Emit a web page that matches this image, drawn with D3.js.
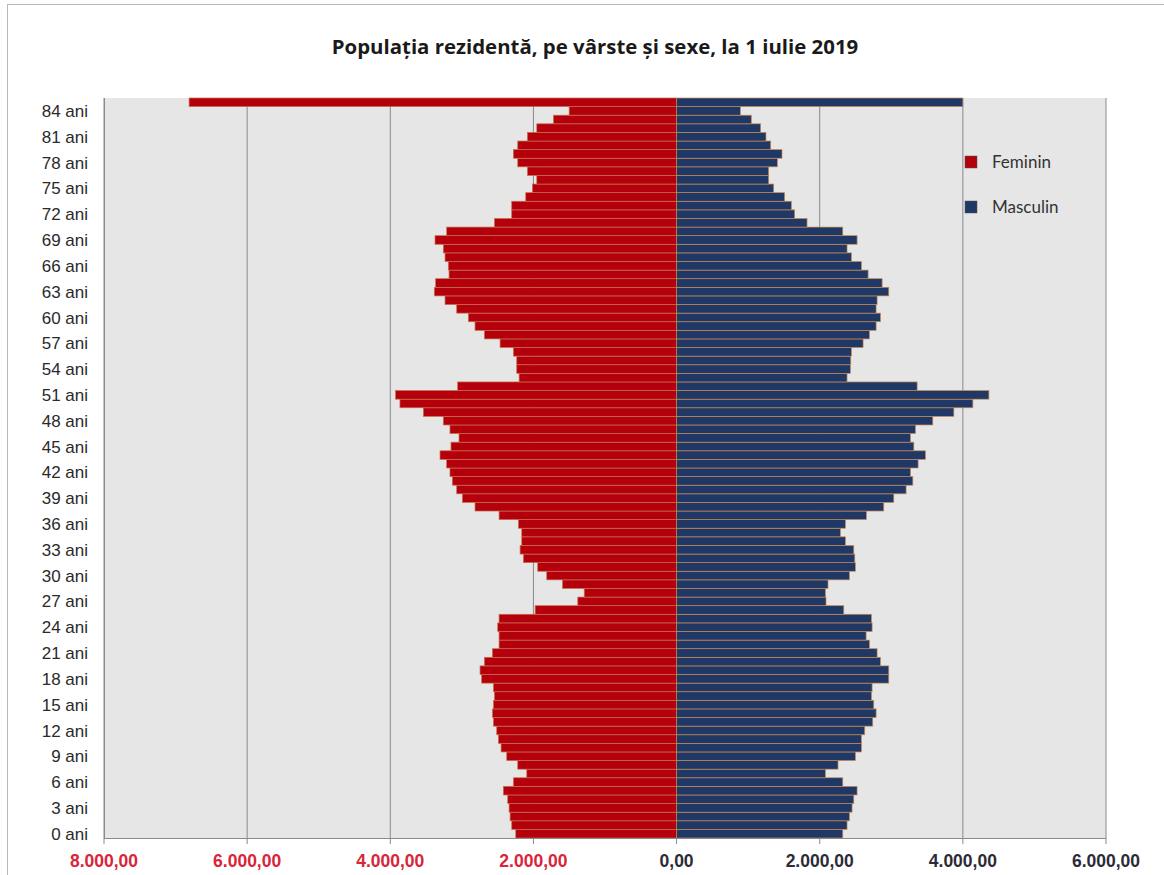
<!DOCTYPE html>
<html>
<head>
<meta charset="utf-8">
<script src="https://cdn.jsdelivr.net/npm/d3@7"></script>
<style>
    body { margin: 0; background: #fff; }
    svg { display: block; }
</style>
</head>
<body>
<div id="chart"></div>
<script>
// ages 0..84, last category is 85 and over
const ages = d3.range(0, 86);
const femaleValues = [
    2247, 2303, 2326, 2340, 2359, 2420, 2280, 2093, 2219, 2373,
    2452, 2490, 2513, 2559, 2573, 2559, 2545, 2559, 2723, 2746,
    2685, 2573, 2480, 2480, 2499, 2480, 1976, 1380, 1290, 1594,
    1814, 1940, 2140, 2186, 2163, 2163, 2210, 2480, 2816, 2993,
    3072, 3133, 3166, 3212, 3305, 3152, 3040, 3166, 3259, 3538,
    3865, 3926, 3058, 2200, 2233, 2233, 2280, 2466, 2685, 2816,
    2909, 3072, 3235, 3385, 3366, 3179, 3189, 3235, 3259, 3375,
    3212, 2545, 2303, 2303, 2107, 2014, 1953, 2084, 2219, 2280,
    2219, 2084, 1953, 1720, 1501, 6811
];
const maleValues = [
    2322, 2382, 2415, 2452, 2476, 2522, 2322, 2079, 2256, 2499,
    2583, 2583, 2629, 2741, 2788, 2755, 2723, 2732, 2965, 2965,
    2849, 2802, 2695, 2648, 2732, 2723, 2336, 2088, 2079, 2116,
    2415, 2499, 2490, 2476, 2359, 2289, 2359, 2653, 2895, 3035,
    3207, 3301, 3268, 3375, 3478, 3315, 3268, 3338, 3580, 3874,
    4140, 4364, 3361, 2382, 2429, 2434, 2443, 2606, 2695, 2788,
    2849, 2788, 2802, 2965, 2872, 2676, 2583, 2443, 2382, 2522,
    2322, 1823, 1650, 1604, 1510, 1357, 1287, 1287, 1408, 1473,
    1315, 1249, 1175, 1044, 891, 4000
];
const xTicks = [-8000, -6000, -4000, -2000, 0, 2000, 4000, 6000];
const labelAges = d3.range(0, 85, 3);
const seriesNames = ['Feminin', 'Masculin'];

const width = 1164;
const height = 875;
const margin = { top: 98, right: 58, bottom: 37, left: 104 };
const colors = { Feminin: '#b3000c', Masculin: '#1f3866' };
const narrowFont = '"Liberation Sans Narrow", "Arial Narrow", "Liberation Sans", Arial, sans-serif';

const roLocale = d3.formatLocale({ decimal: ',', thousands: '.', grouping: [3], currency: ['', ''] });
const fmt = roLocale.format(',.2f');

const svg = d3.select('#chart')
    .append('svg')
    .attr('width', width)
    .attr('height', height);

// outer frame
svg.append('rect')
    .attr('x', 7.5).attr('y', 4.5)
    .attr('width', 1200).attr('height', 900)
    .attr('fill', 'none')
    .attr('stroke', '#b8b8b8');

svg.append('text')
    .attr('x', 595)
    .attr('y', 54)
    .attr('text-anchor', 'middle')
    .style('font-family', '"Open Sans", Lato, sans-serif')
    .style('font-weight', 700)
    .style('font-size', '20.4px')
    .style('fill', '#1a1a1a')
    .text('Populația rezidentă, pe vârste și sexe, la 1 iulie 2019');

const x = d3.scaleLinear()
    .domain([-8000, 6000])
    .range([margin.left, width - margin.right]);

const y = d3.scaleBand()
    .domain(ages.slice().reverse())
    .range([margin.top, height - margin.bottom])
    .padding(0);

const plot = svg.append('g');

plot.append('rect')
    .attr('x', margin.left)
    .attr('y', margin.top)
    .attr('width', x.range()[1] - margin.left)
    .attr('height', y.range()[1] - margin.top)
    .attr('fill', '#e6e6e6');

// vertical grid
plot.selectAll('.grid')
    .data(xTicks)
    .enter()
    .append('line')
    .attr('class', 'grid')
    .attr('x1', d => x(d)).attr('x2', d => x(d))
    .attr('y1', margin.top).attr('y2', y.range()[1] + 6)
    .attr('stroke', '#8a8a8a')
    .attr('stroke-width', 1);

// female bars to the left
plot.selectAll('.bar-f')
    .data(ages)
    .enter()
    .append('rect')
    .attr('class', 'bar-f')
    .attr('x', a => x(-femaleValues[a]))
    .attr('y', a => y(a))
    .attr('width', a => x(0) - x(-femaleValues[a]))
    .attr('height', y.bandwidth())
    .attr('fill', colors.Feminin)
    .attr('stroke', '#c9704a')
    .attr('stroke-width', 0.7);

// male bars to the right
plot.selectAll('.bar-m')
    .data(ages)
    .enter()
    .append('rect')
    .attr('class', 'bar-m')
    .attr('x', x(0))
    .attr('y', a => y(a))
    .attr('width', a => x(maleValues[a]) - x(0))
    .attr('height', y.bandwidth())
    .attr('fill', colors.Masculin)
    .attr('stroke', '#c98a55')
    .attr('stroke-width', 0.7);

// axis lines
plot.append('line')
    .attr('x1', margin.left).attr('x2', x.range()[1])
    .attr('y1', y.range()[1] + 0.5).attr('y2', y.range()[1] + 0.5)
    .attr('stroke', '#8a8a8a');
plot.append('line')
    .attr('x1', margin.left + 0.5).attr('x2', margin.left + 0.5)
    .attr('y1', margin.top).attr('y2', y.range()[1])
    .attr('stroke', '#8a8a8a');

svg.selectAll('.ylabel')
    .data(labelAges)
    .enter()
    .append('text')
    .attr('class', 'ylabel')
    .attr('x', 88)
    .attr('y', a => y(a) + y.bandwidth() / 2)
    .attr('dy', '0.36em')
    .attr('text-anchor', 'end')
    .style('font-family', narrowFont)
    .style('font-size', '17px')
    .style('fill', '#2a2a2a')
    .text(a => `${a} ani`);

svg.selectAll('.xlabel')
    .data(xTicks)
    .enter()
    .append('text')
    .attr('class', 'xlabel')
    .attr('x', d => x(d))
    .attr('y', 867)
    .attr('text-anchor', 'middle')
    .style('font-family', narrowFont)
    .style('font-weight', 700)
    .style('font-size', '17.5px')
    .style('fill', d => d < 0 ? '#d9243a' : '#2b2b38')
    .text(d => fmt(Math.abs(d)));

// legend
const legend = svg.selectAll('.legend')
    .data(seriesNames)
    .enter()
    .append('g')
    .attr('class', 'legend')
    .attr('transform', (d, i) => `translate(965,${156 + i * 45})`);

legend.append('rect')
    .attr('width', 12)
    .attr('height', 12)
    .attr('fill', d => colors[d])
    .attr('stroke', '#555')
    .attr('stroke-width', 0.5);

legend.append('text')
    .attr('x', 27)
    .attr('y', 6)
    .attr('dy', '0.35em')
    .style('font-family', 'Lato, "Open Sans", sans-serif')
    .style('font-size', '17px')
    .style('fill', '#333')
    .text(d => d);
</script>
</body>
</html>
